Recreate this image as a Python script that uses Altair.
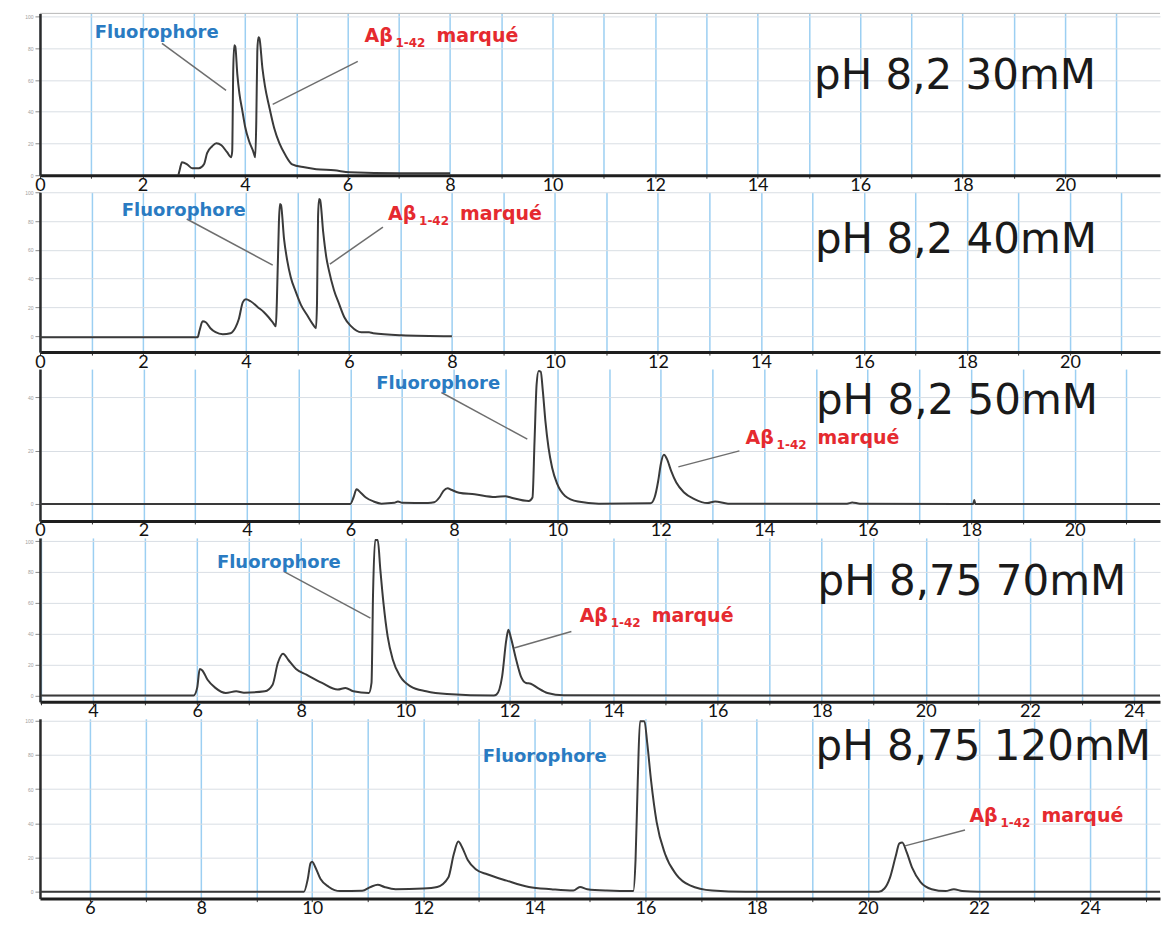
import math
import altair as alt
import pandas as pd

# ---------------- data ----------------
CONDITIONS = ["pH 8,2 30mM", "pH 8,2 40mM", "pH 8,2 50mM", "pH 8,75 70mM", "pH 8,75 120mM"]

# (retention time in min, fluorescence signal in arbitrary units)
TRACE_1 = [(2.70, 0.0), (2.73, 4.0), (2.77, 8.2), (2.87, 6.9), (2.97, 4.4), (3.10, 4.4), (3.20, 6.9),
           (3.26, 13.9), (3.36, 18.3), (3.44, 20.2), (3.54, 18.9), (3.65, 14.5), (3.73, 11.3), (3.75, 15.1),
           (3.77, 65.5), (3.79, 81.9), (3.81, 81.2), (3.85, 63.6), (3.89, 51.6), (3.95, 40.3), (4.00, 30.9),
           (4.08, 21.4), (4.16, 15.1), (4.20, 11.3), (4.22, 34.0), (4.24, 78.1), (4.26, 86.9), (4.28, 86.3),
           (4.34, 67.4), (4.39, 56.0), (4.47, 43.5), (4.57, 29.6), (4.67, 20.2), (4.79, 12.6), (4.92, 6.9),
           (5.16, 5.0), (5.39, 3.8), (5.74, 3.1), (6.04, 1.9), (7.00, 1.3), (8.00, 1.3)]

TRACE_2 = [(0.00, -0.7), (3.06, -0.7), (3.10, 4.2), (3.16, 10.4), (3.22, 9.7), (3.31, 5.6), (3.41, 2.8),
           (3.55, 1.4), (3.70, 2.1), (3.80, 6.3), (3.86, 11.8), (3.94, 23.7), (4.00, 25.7), (4.09, 24.3),
           (4.23, 20.2), (4.35, 16.7), (4.44, 13.2), (4.52, 9.7), (4.58, 7.0), (4.60, 23.7), (4.64, 79.3),
           (4.66, 91.8), (4.68, 91.1), (4.74, 67.5), (4.80, 52.9), (4.87, 41.0), (4.97, 30.6), (5.07, 21.6),
           (5.19, 14.6), (5.30, 8.3), (5.36, 5.6), (5.38, 23.7), (5.40, 82.8), (5.42, 95.3), (5.44, 94.6),
           (5.50, 72.3), (5.56, 55.0), (5.61, 45.9), (5.71, 32.0), (5.81, 22.3), (5.91, 13.2), (6.04, 7.0),
           (6.24, 2.8), (6.39, 2.8), (6.47, 2.1), (7.02, 0.7), (8.00, 0.0)]

TRACE_3 = [(0.00, 0.0), (6.00, 0.0), (6.06, 2.4), (6.12, 5.5), (6.20, 4.2), (6.30, 2.4), (6.45, 0.9),
           (6.60, 0.1), (6.85, 0.4), (6.92, 0.9), (7.00, 0.4), (7.50, 0.3), (7.62, 0.6), (7.72, 2.4),
           (7.80, 4.9), (7.88, 5.9), (7.95, 5.3), (8.10, 4.2), (8.40, 3.6), (8.80, 2.6), (9.00, 2.9),
           (9.10, 2.4), (9.45, 1.1), (9.52, 2.4), (9.56, 23.6), (9.60, 44.9), (9.64, 49.9), (9.68, 49.6),
           (9.72, 42.4), (9.77, 31.1), (9.83, 21.1), (9.90, 13.6), (10.00, 7.4), (10.15, 3.0), (10.40, 0.9),
           (10.80, 0.1), (11.80, 0.2), (11.88, 2.4), (11.95, 8.6), (12.00, 14.9), (12.06, 18.4), (12.12, 16.8),
           (12.20, 12.4), (12.30, 8.0), (12.45, 4.3), (12.65, 1.8), (12.90, 0.3), (13.05, 0.9), (13.30, 0.1),
           (15.60, 0.1), (15.70, 0.5), (15.85, 0.1), (18.04, 0.0), (18.06, 1.5), (18.08, 0.0), (21.65, 0.0)]

TRACE_4 = [(3.00, 0.0), (5.93, 0.0), (6.00, 5.0), (6.05, 17.2), (6.10, 16.3), (6.20, 10.3), (6.35, 5.0),
           (6.55, 1.7), (6.75, 2.8), (6.90, 1.9), (7.30, 2.8), (7.45, 7.1), (7.55, 21.1), (7.65, 27.1),
           (7.75, 23.2), (7.90, 17.2), (8.10, 13.5), (8.40, 8.2), (8.70, 3.9), (8.85, 5.0), (9.00, 2.8),
           (9.30, 1.7), (9.35, 8.2), (9.38, 66.5), (9.42, 100.6), (9.47, 100.6), (9.52, 81.3), (9.58, 59.8),
           (9.66, 38.3), (9.76, 23.2), (9.90, 12.5), (10.10, 6.0), (10.40, 2.8), (10.80, 1.0), (11.70, 0.0),
           (11.75, 0.6), (11.86, 12.5), (11.94, 36.1), (11.98, 42.6), (12.03, 37.2), (12.13, 23.2),
           (12.22, 12.5), (12.32, 8.2), (12.41, 7.7), (12.54, 5.0), (12.73, 1.7), (13.04, 0.2), (24.50, 0.0)]

TRACE_5 = [(5.10, 0.0), (9.85, 0.0), (9.92, 7.4), (9.97, 16.7), (10.00, 17.6), (10.05, 14.8), (10.15, 7.4),
           (10.30, 2.8), (10.50, 0.4), (10.90, 0.6), (11.05, 2.8), (11.18, 4.1), (11.30, 2.8), (11.50, 1.5),
           (12.00, 1.9), (12.25, 2.8), (12.45, 8.3), (12.55, 22.2), (12.63, 29.3), (12.70, 25.9), (12.80, 18.5),
           (12.95, 13.0), (13.15, 10.2), (13.50, 6.5), (13.90, 2.8), (14.30, 1.5), (14.70, 0.7), (14.82, 2.8),
           (14.95, 1.5), (15.30, 0.7), (15.78, 0.4), (15.82, 18.5), (15.86, 64.8), (15.90, 99.6), (15.98, 99.6),
           (16.03, 87.0), (16.10, 64.8), (16.20, 40.7), (16.35, 22.2), (16.55, 10.2), (16.80, 3.7), (17.20, 0.7),
           (17.80, 0.0), (20.20, 0.0), (20.30, 1.9), (20.40, 8.3), (20.50, 20.4), (20.57, 28.2), (20.62, 28.7),
           (20.70, 23.1), (20.80, 13.9), (20.95, 5.6), (21.15, 1.5), (21.40, 0.4), (21.55, 1.5), (21.70, 0.4),
           (22.00, 0.0), (25.26, 0.0)]

TRACES = [TRACE_1, TRACE_2, TRACE_3, TRACE_4, TRACE_5]

X_DOMAINS = [[0, 21.85], [0, 21.75], [0, 21.65], [2.98, 24.5], [5.1, 25.26]]
Y_DOMAINS = [[0, 102], [-11, 100], [-6.4, 50.6], [-4, 102], [-4, 101]]
Y_GRID = [[0, 20, 40, 60, 80, 100], [0, 20, 40, 60, 80, 100], [0, 20, 40],
          [0, 20, 40, 60, 80, 100], [0, 20, 40, 60, 80, 100]]
HEIGHTS = [162, 160, 152, 164, 180]

# annotation anchors (time, signal)
FLUOR_POS = [(1.07, 89.4), (1.59, 87.0), (6.5, 45.1), (6.38, 86.0), (13.07, 78.9)]
FLUOR_LEADER = [(2.38, 83.1, 3.63, 53.5), (2.85, 81.4, 4.52, 49.4), (7.76, 41.8, 9.42, 24.3),
                (7.67, 80.2, 9.33, 50.1), None]
ABETA_POS = [(6.33, 87.5), (6.76, 84.9), (13.64, 24.8), (13.35, 51.2), (21.83, 44.4)]
ABETA_LEADER = [(6.2, 71.8, 4.54, 44.7), (6.66, 75.8, 5.63, 50.1), (13.52, 19.9, 12.34, 13.9),
                (13.19, 41.5, 12.09, 30.8), (21.75, 36.1, 20.67, 26.8)]
TITLE_POS = [(15.1, 62.3), (15.05, 66.8), (15.0, 38.6), (17.92, 73.5), (19.06, 84.4)]

FLUOR_TEXT = "Fluorophore"
ABETA_MAIN, ABETA_SUB, ABETA_REST = "Aβ", "1-42", "marqué"

WIDTH = 1121
BLUE = "#2a7bc2"
RED = "#e52a2f"


def panel(i):
    lo, hi = X_DOMAINS[i]
    xs = alt.Scale(domain=X_DOMAINS[i], nice=False, zero=False)
    ys = alt.Scale(domain=Y_DOMAINS[i], nice=False, zero=False)
    xaxis = alt.Axis(
        values=list(range(math.ceil(lo), math.floor(hi) + 1)),
        labelExpr="datum.value % 2 === 0 ? datum.label : ''",
        title=None, grid=True, gridColor="#9ccff2", gridWidth=1.5,
        domainColor="#1e1e1e", domainWidth=3, tickColor="#333333", tickSize=3,
        labelFont="Lato", labelFontSize=18, labelColor="#111111", labelPadding=-2,
        labelOverlap=False, labelFlush=False,
    )
    yaxis = alt.Axis(
        values=Y_GRID[i], title=None, grid=True, gridColor="#d9dee4", gridWidth=1,
        domainColor="#2a2a2a", domainWidth=2.5, tickColor="#8a8a8a", tickSize=5,
        labelFontSize=5, labelColor="#a0a0a0", labelPadding=2, format="d",
    )
    X = lambda f: alt.X(f, type="quantitative", scale=xs, axis=xaxis)
    Y = lambda f: alt.Y(f, type="quantitative", scale=ys, axis=yaxis)

    trace = pd.DataFrame(TRACES[i], columns=["t", "signal"])
    line = alt.Chart(trace).mark_line(color="#3a3a3a", strokeWidth=2, clip=True,
                                      interpolate="monotone").encode(
        x=X("t"), y=Y("signal"))

    leaders = [l for l in (FLUOR_LEADER[i], ABETA_LEADER[i]) if l is not None]
    ldf = pd.DataFrame(leaders, columns=["t", "signal", "t2", "signal2"])
    rules = alt.Chart(ldf).mark_rule(color="#6e6e6e", strokeWidth=1.5).encode(
        x=X("t"), y=Y("signal"), x2="t2:Q", y2="signal2:Q")

    fdf = pd.DataFrame([{"t": FLUOR_POS[i][0], "signal": FLUOR_POS[i][1], "label": FLUOR_TEXT}])
    fluor = alt.Chart(fdf).mark_text(align="left", baseline="middle", font="DejaVu Sans",
                                     fontWeight="bold", fontSize=18, color=BLUE).encode(
        x=X("t"), y=Y("signal"), text="label:N")

    adf = pd.DataFrame([{"t": ABETA_POS[i][0], "signal": ABETA_POS[i][1],
                         "main": ABETA_MAIN, "sub": ABETA_SUB, "rest": ABETA_REST}])
    a_main = alt.Chart(adf).mark_text(align="left", baseline="middle", font="DejaVu Sans",
                                      fontWeight="bold", fontSize=19, color=RED).encode(
        x=X("t"), y=Y("signal"), text="main:N")
    a_sub = alt.Chart(adf).mark_text(align="left", baseline="middle", font="DejaVu Sans",
                                     fontWeight="bold", fontSize=12, color=RED, dx=31, dy=7).encode(
        x=X("t"), y=Y("signal"), text="sub:N")
    a_rest = alt.Chart(adf).mark_text(align="left", baseline="middle", font="DejaVu Sans",
                                      fontWeight="bold", fontSize=19, color=RED, dx=72).encode(
        x=X("t"), y=Y("signal"), text="rest:N")

    tdf = pd.DataFrame([{"t": TITLE_POS[i][0], "signal": TITLE_POS[i][1], "label": CONDITIONS[i]}])
    title = alt.Chart(tdf).mark_text(align="left", baseline="middle", font="DejaVu Sans",
                                     fontSize=42, color="#1a1a1a").encode(
        x=X("t"), y=Y("signal"), text="label:N")

    layers = [line, rules, fluor, a_main, a_sub, a_rest, title]
    if i == 0:
        frame = alt.Chart(tdf).mark_rule(color="#b8b8b8", strokeWidth=1).encode(
            x=alt.value(0), x2=alt.value(WIDTH), y=alt.value(0))
        layers.append(frame)
    return alt.layer(*layers).properties(width=WIDTH, height=HEIGHTS[i])


chart = alt.vconcat(*[panel(i) for i in range(5)], spacing=17, bounds="flush").properties(
    padding={"left": 16, "top": 4, "right": 0, "bottom": 0},
    background="white",
).configure_view(stroke=None)

chart.save("out.html", embed_options={"renderer": "svg", "actions": False})
